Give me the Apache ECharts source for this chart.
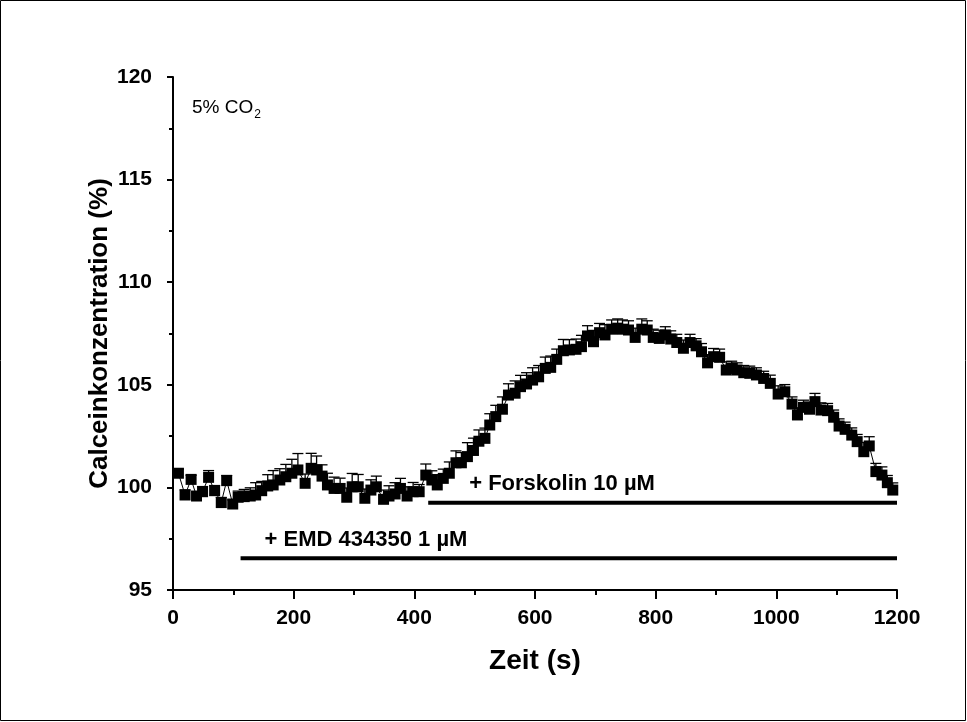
<!DOCTYPE html>
<html>
<head>
    <meta charset="utf-8" />
    <title>Calceinkonzentration</title>
    <script src="https://cdn.jsdelivr.net/npm/echarts@6/dist/echarts.min.js"></script>
    <style>
        html, body { margin: 0; padding: 0; background: #fff; }
    </style>
</head>
<body>
    <div id="main" style="width:967px;height:722px"></div>
    <script type="text/javascript">

        // Zeit (s)
        var times = [9, 20, 30, 39, 49, 59, 69, 80, 89, 99,
            108, 118, 128, 137, 147, 157, 166, 177, 187, 197,
            207, 219, 229, 238, 247, 256, 267, 277, 288, 297,
            307, 318, 328, 337, 349, 358, 368, 377, 388, 398,
            408, 419, 429, 438, 448, 458, 469, 478, 488, 498,
            507, 517, 525, 535, 546, 556, 567, 576, 586, 596,
            606, 617, 626, 636, 647, 657, 668, 677, 687, 697,
            707, 716, 727, 737, 745, 755, 766, 777, 786, 796,
            806, 816, 825, 835, 846, 857, 867, 876, 886, 896,
            906, 917, 926, 935, 946, 956, 967, 979, 990, 1003,
            1014, 1026, 1035, 1045, 1055, 1064, 1074, 1085, 1095, 1104,
            1114, 1125, 1134, 1145, 1154, 1165, 1175, 1184, 1193];

        // Calceinkonzentration (%)
        var values = [100.69, 99.63, 100.39, 99.58, 99.79, 100.49, 99.84, 99.26, 100.33, 99.19,
            99.52, 99.55, 99.58, 99.63, 99.84, 100.07, 100.12, 100.36, 100.52, 100.69,
            100.85, 100.20, 100.93, 100.85, 100.55, 100.12, 99.95, 99.95, 99.52, 100.03,
            100.03, 99.47, 99.87, 100.03, 99.42, 99.58, 99.68, 99.95, 99.58, 99.79,
            99.79, 100.60, 100.36, 100.12, 100.44, 100.69, 101.20, 101.20, 101.50, 101.80,
            102.25, 102.39, 103.04, 103.45, 103.81, 104.50, 104.59, 104.91, 105.04, 105.23,
            105.39, 105.80, 105.85, 106.24, 106.66, 106.70, 106.73, 106.86, 107.38, 107.10,
            107.54, 107.43, 107.71, 107.76, 107.71, 107.67, 107.31, 107.71, 107.67, 107.31,
            107.26, 107.43, 107.23, 107.06, 106.78, 107.06, 106.90, 106.61, 106.07, 106.37,
            106.34, 105.72, 105.80, 105.72, 105.59, 105.56, 105.48, 105.31, 105.07, 104.55,
            104.66, 104.06, 103.53, 103.90, 103.81, 104.18, 103.77, 103.74, 103.42, 102.99,
            102.83, 102.55, 102.23, 101.74, 102.02, 100.77, 100.60, 100.23, 99.87];

        // Fehlerbalken (nur nach oben)
        var errors = [0.20, 0.25, 0.20, 0.20, 0.25, 0.33, 0.25, 0.25, 0.25, 0.20,
            0.30, 0.35, 0.40, 0.60, 0.45, 0.55, 0.70, 0.55, 0.60, 0.68,
            0.80, 0.45, 0.73, 0.68, 0.55, 0.57, 0.55, 0.50, 0.45, 0.65,
            0.60, 0.45, 0.50, 0.52, 0.45, 0.50, 0.55, 0.49, 0.45, 0.45,
            0.35, 0.54, 0.45, 0.50, 0.45, 0.55, 0.58, 0.50, 0.68, 0.60,
            0.55, 0.50, 0.55, 0.55, 0.60, 0.55, 0.60, 0.55, 0.55, 0.60,
            0.55, 0.55, 0.55, 0.50, 0.55, 0.50, 0.50, 0.55, 0.50, 0.55,
            0.45, 0.50, 0.45, 0.45, 0.45, 0.45, 0.45, 0.50, 0.45, 0.40,
            0.40, 0.40, 0.40, 0.40, 0.40, 0.40, 0.35, 0.40, 0.40, 0.40,
            0.40, 0.40, 0.35, 0.35, 0.35, 0.35, 0.35, 0.35, 0.40, 0.40,
            0.35, 0.35, 0.35, 0.35, 0.35, 0.40, 0.35, 0.35, 0.35, 0.35,
            0.35, 0.35, 0.35, 0.45, 0.45, 0.40, 0.40, 0.35, 0.35];

        // Behandlungsbalken: [start, ende], y-Wert
        var forskolinSpan = [423, 1200];
        var forskolinLevel = 99.25;
        var emdSpan = [112, 1200];
        var emdLevel = 96.55;

        var xTicks = [0, 200, 400, 600, 800, 1000, 1200];
        var yTicks = [95, 100, 105, 110, 115, 120];

        var chartDom = document.getElementById('main');
        var myChart = echarts.init(chartDom, null, { renderer: 'canvas' });
        var option;

        var points = times.map(function (t, i) {
            return [t, values[i]];
        });
        var errData = times.map(function (t, i) {
            return [t, values[i], values[i] + errors[i]];
        });

        function renderError(params, api) {
            var x = api.value(0);
            var p0 = api.coord([x, api.value(1)]);
            var p1 = api.coord([x, api.value(2)]);
            var half = 5.5;
            var style = { stroke: '#000', lineWidth: 1.3 };
            return {
                type: 'group',
                children: [{
                    type: 'line',
                    shape: { x1: p0[0], y1: p0[1], x2: p1[0], y2: p1[1] },
                    style: style
                }, {
                    type: 'line',
                    shape: { x1: p1[0] - half, y1: p1[1], x2: p1[0] + half, y2: p1[1] },
                    style: style
                }]
            };
        }

        var fontName = '"Liberation Sans", Arial, sans-serif';

        option = {
            backgroundColor: '#fff',
            animation: false,
            grid: {
                left: 173,
                right: 70,
                top: 77,
                bottom: 132
            },
            xAxis: {
                type: 'value',
                min: xTicks[0],
                max: xTicks[xTicks.length - 1],
                interval: 200,
                name: 'Zeit (s)',
                nameLocation: 'middle',
                nameGap: 57,
                nameTextStyle: { fontFamily: fontName, fontSize: 28, fontWeight: 'bold', color: '#000' },
                axisLine: { lineStyle: { color: '#000', width: 2 } },
                axisTick: { length: 9, lineStyle: { color: '#000', width: 2 } },
                minorTick: { show: true, splitNumber: 2, length: 5, lineStyle: { color: '#000', width: 2 } },
                axisLabel: {
                    fontFamily: fontName, fontSize: 21, fontWeight: 'bold', color: '#000', margin: 18,
                    formatter: function (v) { return String(v); }
                },
                splitLine: { show: false }
            },
            yAxis: {
                type: 'value',
                min: yTicks[0],
                max: yTicks[yTicks.length - 1],
                interval: 5,
                name: 'Calceinkonzentration (%)',
                nameLocation: 'middle',
                nameGap: 60,
                nameMoveOverlap: false,
                nameTextStyle: { fontFamily: fontName, fontSize: 26, fontWeight: 'bold', color: '#000' },
                axisLine: { lineStyle: { color: '#000', width: 2 } },
                axisTick: { length: 6, lineStyle: { color: '#000', width: 2 } },
                minorTick: { show: true, splitNumber: 2, length: 4, lineStyle: { color: '#000', width: 2 } },
                axisLabel: {
                    fontFamily: fontName, fontSize: 21, fontWeight: 'bold', color: '#000', margin: 21,
                    formatter: function (v) { return String(v); }
                },
                splitLine: { show: false }
            },
            series: [{
                name: 'err',
                type: 'custom',
                renderItem: renderError,
                data: errData,
                encode: { x: 0, y: [1, 2] },
                z: 1
            }, {
                name: 'Calcein',
                type: 'line',
                data: points,
                symbol: 'rect',
                symbolSize: 11,
                itemStyle: { color: '#000' },
                lineStyle: { color: '#000', width: 1 },
                z: 2
            }, {
                name: 'Forskolin',
                type: 'line',
                symbol: 'none',
                lineStyle: { color: '#000', width: 4 },
                data: [[forskolinSpan[0], forskolinLevel], [forskolinSpan[1], forskolinLevel]],
                z: 3
            }, {
                name: 'EMD',
                type: 'line',
                symbol: 'none',
                lineStyle: { color: '#000', width: 4 },
                data: [[emdSpan[0], emdLevel], [emdSpan[1], emdLevel]],
                z: 3
            }]
        };

        option && myChart.setOption(option);

        // Beschriftungen ueber den Balken, an die Achsen gebunden
        var pF = myChart.convertToPixel('grid', [forskolinSpan[0], forskolinLevel]);
        var pE = myChart.convertToPixel('grid', [emdSpan[0], emdLevel]);
        var labelStyle = { fontFamily: fontName, fontSize: 22, fontWeight: 'bold', fill: '#000' };

        myChart.setOption({
            graphic: [{
                type: 'rect',
                shape: { x: 0.5, y: 0.5, width: 965, height: 720 },
                style: { fill: 'none', stroke: '#000', lineWidth: 1 }
            }, {
                type: 'text',
                left: 192,
                top: 98,
                style: {
                    text: '{a|5% CO}{b|2}',
                    rich: {
                        a: { fontFamily: fontName, fontSize: 19, fill: '#000' },
                        b: { fontFamily: fontName, fontSize: 12, fill: '#000', padding: [14, 0, 0, 1] }
                    }
                }
            }, {
                type: 'text',
                x: pF[0] + 41,
                y: pF[1] - 19,
                style: Object.assign({ text: '+ Forskolin 10 µM', textVerticalAlign: 'middle' }, labelStyle)
            }, {
                type: 'text',
                x: pE[0] + 24,
                y: pE[1] - 18,
                style: Object.assign({ text: '+ EMD 434350 1 µM', textVerticalAlign: 'middle' }, labelStyle)
            }]
        });

    </script>
</body>
</html>
